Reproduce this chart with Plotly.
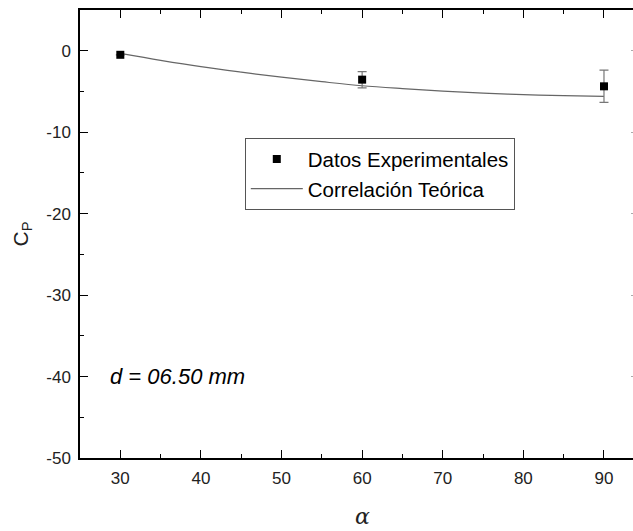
import plotly.graph_objects as go

# Experimental data
alpha_exp = [30, 60, 90]
cp_exp = [-0.5, -3.55, -4.37]
err_plus = [0.0, 0.98, 2.0]
err_minus = [0.0, 1.02, 1.97]

# Theoretical correlation
alpha_th = [30, 35, 40, 45, 50, 55, 60, 65, 70, 75, 80, 85, 90]
cp_th = [-0.33, -1.18, -1.96, -2.63, -3.25, -3.8, -4.3, -4.65, -4.95, -5.2, -5.4, -5.52, -5.6]

x_ticks = [30, 40, 50, 60, 70, 80, 90]
x_labels = ["30", "40", "50", "60", "70", "80", "90"]
y_ticks = [0, -10, -20, -30, -40, -50]
y_labels = ["0", "-10", "-20", "-30", "-40", "-50"]

X_RANGE = [25, 93.6]
Y_RANGE = [-50, 5]

fig = go.Figure()
fig.add_trace(go.Scatter(
    x=alpha_th, y=cp_th, mode="lines", line=dict(color="#666666", width=1.2, shape="spline"),
    name="Correlación Teórica"))
fig.add_trace(go.Scatter(
    x=alpha_exp, y=cp_exp, mode="markers",
    marker=dict(symbol="square", size=8, color="black"),
    error_y=dict(type="data", symmetric=False, array=err_plus, arrayminus=err_minus,
                 color="#777777", thickness=1.2, width=4.5),
    name="Datos Experimentales"))
# dummy trace to activate the right-hand tick stubs
fig.add_trace(go.Scatter(x=[None], y=[None], yaxis="y2", showlegend=False, hoverinfo="skip"))

fig.update_layout(
    width=633, height=531,
    margin=dict(l=80, r=0, t=10, b=73),
    plot_bgcolor="white", paper_bgcolor="white",
    font=dict(family="Liberation Sans, Arial", size=17, color="#222222"),
    xaxis=dict(range=X_RANGE, tickvals=x_ticks, ticktext=x_labels, ticks="inside", ticklen=8,
               tickwidth=1.2, tickcolor="black", mirror="ticks",
               minor=dict(dtick=5, tick0=25, ticks="inside", ticklen=4, tickcolor="black", tickwidth=1),
               showgrid=False, zeroline=False, showline=True, linecolor="black", linewidth=1.5,
               ticklabelstandoff=4),
    yaxis=dict(range=Y_RANGE, tickvals=y_ticks, ticktext=y_labels, ticks="inside", ticklen=8,
               tickwidth=1.2, tickcolor="black",
               minor=dict(dtick=5, tick0=0, ticks="inside", ticklen=4, tickcolor="black", tickwidth=1),
               showgrid=False, zeroline=False, showline=True, linecolor="black", linewidth=1.5,
               title=dict(text="C<sub>P</sub>", font=dict(size=21), standoff=12),
               ticklabelstandoff=4),
    yaxis2=dict(range=Y_RANGE, overlaying="y", side="right", tickvals=y_ticks, ticks="inside",
                ticklen=2, tickwidth=1, tickcolor="#aaaaaa", showticklabels=False,
                showgrid=False, zeroline=False, showline=False),
    showlegend=True,
    legend=dict(x=0.298, y=0.714, xanchor="left", yanchor="top", bordercolor="#555555", borderwidth=1,
                bgcolor="white", font=dict(size=20.5, color="black"), traceorder="reversed",
                tracegroupgap=0, itemwidth=52),
)

fig.add_annotation(x=0.51, y=-0.13, xref="paper", yref="paper", xanchor="center", yanchor="middle",
                   text="<i>α</i>", showarrow=False,
                   font=dict(family="DejaVu Serif, serif", size=22, color="#222222"))

fig.add_annotation(x=(108 - 80) / 553, y=(458 - 376) / 448, xref="paper", yref="paper",
                   xanchor="left", yanchor="middle",
                   text="<i>d = 06.50 mm</i>", showarrow=False, font=dict(size=22, color="black"))

fig.write_html("out.html")
